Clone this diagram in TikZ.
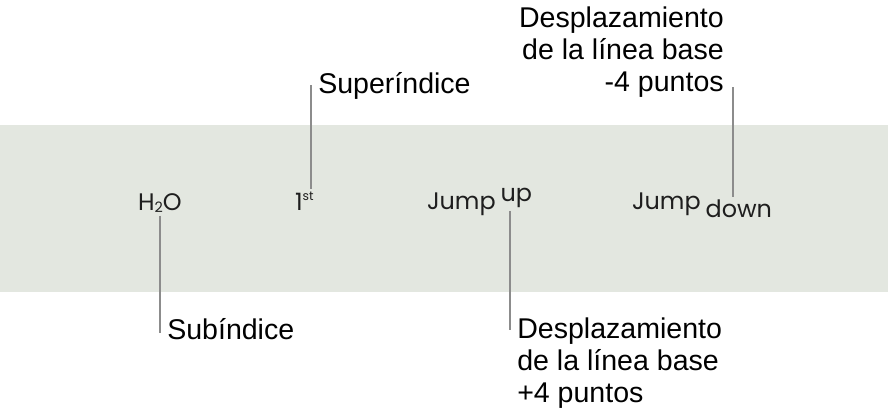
\documentclass[tikz,border=0pt]{standalone}
\usepackage{fontspec}
\setmainfont{Liberation Sans}
\newfontfamily\bandfont{Poppins}
\usetikzlibrary{positioning}

\definecolor{bandgray}{HTML}{E3E7E0}
\definecolor{leadgray}{HTML}{8C8C8C}
\definecolor{inkdark}{HTML}{1E1E1E}

\tikzset{
  sample/.style={anchor=base west,inner sep=0pt,outer sep=0pt,text=inkdark,
    font=\bandfont\fontsize{17}{20}\selectfont},
  callout/.style={inner sep=0pt,font=\fontsize{20.3}{22.8}\selectfont},
  leader/.style={draw=leadgray,line width=1.5pt,shorten <=2pt}
}

\begin{document}
\begin{tikzpicture}[x=0.025cm,y=-0.025cm]
  \useasboundingbox (0,0) rectangle (888,420);
  \fill[bandgray] (0,125) rectangle (888,292);

  % samples in the band
  \node[sample] (h2o) at (138,210) {H\raisebox{-2pt}{\fontsize{10.2}{12}\selectfont 2}O};
  \node[sample] (first) at (295,210) {1\raisebox{7pt}{\fontsize{8.8}{10}\selectfont st}};
  \node[sample] (jumpup) at (427,209) {Jump};
  \node[sample] (up) at ([xshift=3.5pt,yshift=5pt]jumpup.base east) {up};
  \node[sample] (jumpdown) at (632,209) {Jump};
  \node[sample] (down) at ([xshift=3.5pt,yshift=-6pt]jumpdown.base east) {down};

  % callouts
  \node[callout,anchor=north west] (sublbl) at (167,318.5) {Subíndice};
  \node[callout,anchor=north west] (suplbl) at (318,72.5) {Superíndice};
  \node[callout,anchor=north west,align=left] (uplbl) at (517,317.5)
    {Desplazamiento\\de la línea base\\+4 puntos};
  \node[callout,anchor=north east,align=right] (downlbl) at (724,6.5)
    {Desplazamiento\\de la línea base\\-4 puntos};

  % leaders
  \coordinate (subfoot) at (160,333);
  \coordinate (suphead) at (311,85);
  \coordinate (upfoot) at (510,330);
  \coordinate (downhead) at (733,87);
  \draw[leader] (h2o.south -| subfoot) -- (subfoot);
  \draw[leader] (first.north -| suphead) -- (suphead);
  \draw[leader] (up.south -| upfoot) -- (upfoot);
  \draw[leader] (down.north -| downhead) -- (downhead);
\end{tikzpicture}
\end{document}
